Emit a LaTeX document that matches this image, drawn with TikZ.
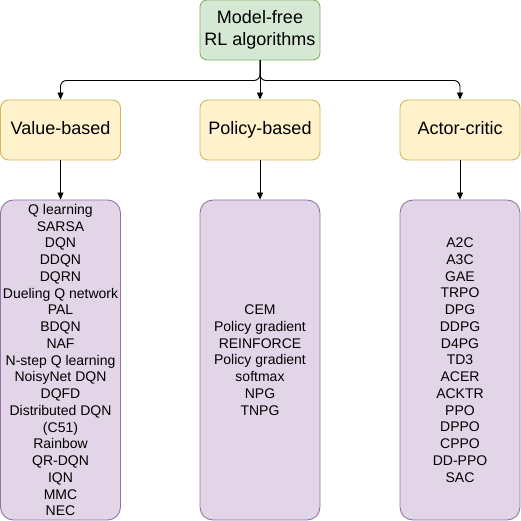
\documentclass[tikz,border=0pt]{standalone}
\usepackage{fontspec}
\setmainfont{Liberation Sans}
\usetikzlibrary{arrows.meta}
\definecolor{gfill}{HTML}{D5E8D4}
\definecolor{gline}{HTML}{82B366}
\definecolor{yfill}{HTML}{FFF2CC}
\definecolor{yline}{HTML}{D6B656}
\definecolor{pfill}{HTML}{E1D5E7}
\definecolor{pline}{HTML}{9673A6}
\tikzset{
  rootbox/.style={draw=gline,fill=gfill,line width=0.9pt,rounded corners=7pt,minimum width=120pt,minimum height=60pt,inner sep=0pt,align=center,font=\fontsize{18}{21.6}\selectfont},
  catbox/.style={draw=yline,fill=yfill,line width=0.9pt,rounded corners=8pt,minimum width=120pt,minimum height=60pt,inner sep=0pt,align=center,text height=13pt,text depth=4pt,font=\fontsize{18}{21.6}\selectfont},
  listbox/.style={draw=pline,fill=pfill,line width=0.9pt,rounded corners=13pt,minimum width=120pt,minimum height=320pt,inner sep=0pt,align=center,font=\fontsize{14}{16.75}\selectfont},
  conn/.style={draw=black,line width=0.9pt,-{Stealth[length=7pt,width=6pt,inset=0pt]}},
}
\begin{document}
\begin{tikzpicture}[x=1pt,y=-1pt]
\useasboundingbox (0,0) rectangle (521,521);
\node[rootbox] (root) at (260,30) {Model-free\\RL algorithms};
\node[catbox] (vb) at (60.5,130) {Value-based};
\node[catbox] (pb) at (260,130) {Policy-based};
\node[catbox] (ac) at (460,130) {Actor-critic};
\node[listbox] (vl) at (60.5,360) {Q learning\\SARSA\\DQN\\DDQN\\DQRN\\Dueling Q network\\PAL\\BDQN\\NAF\\N-step Q learning\\NoisyNet DQN\\DQFD\\Distributed DQN\\(C51)\\Rainbow\\QR-DQN\\IQN\\MMC\\NEC};
\node[listbox] (pl) at (260,360) {CEM\\Policy gradient\\REINFORCE\\Policy gradient\\softmax\\NPG\\TNPG};
\node[listbox] (al) at (460,360) {A2C\\A3C\\GAE\\TRPO\\DPG\\DDPG\\D4PG\\TD3\\ACER\\ACKTR\\PPO\\DPPO\\CPPO\\DD-PPO\\SAC};
\coordinate (j) at (260,80.5);
\draw[conn,rounded corners=6pt] (root.south) |- (j) -| (vb.north);
\draw[conn,rounded corners=6pt] (root.south) |- (j) -| (ac.north);
\draw[conn] (root.south) -- (pb.north);
\draw[conn] (vb.south) -- (vl.north);
\draw[conn] (pb.south) -- (pl.north);
\draw[conn] (ac.south) -- (al.north);
\end{tikzpicture}
\end{document}
